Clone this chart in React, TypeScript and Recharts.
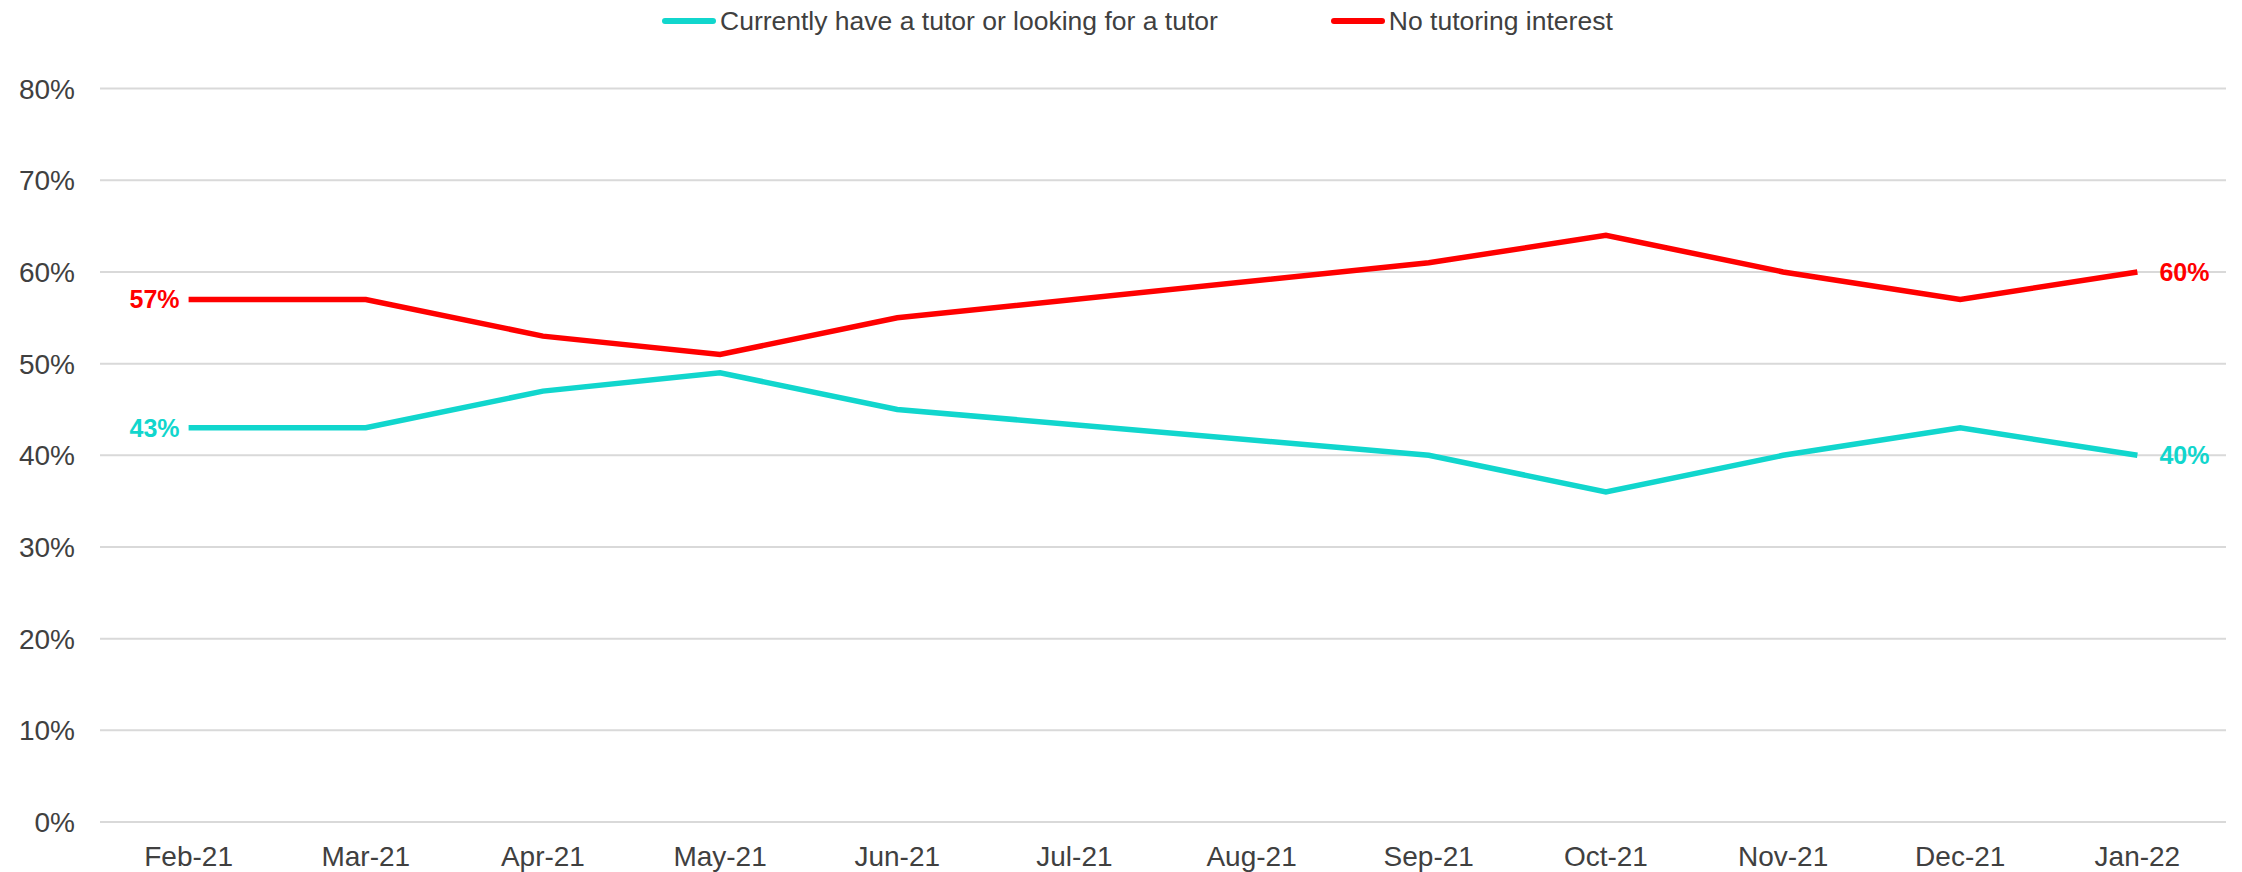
import React from "react";
import { LineChart, Line, XAxis, YAxis, CartesianGrid, Legend } from "recharts";

const months = [
  "Feb-21", "Mar-21", "Apr-21", "May-21", "Jun-21", "Jul-21",
  "Aug-21", "Sep-21", "Oct-21", "Nov-21", "Dec-21", "Jan-22",
];
// Jul-21 and Aug-21 have no survey wave, the line is joined across them
const tutorValues = [43, 43, 47, 49, 45, null, null, 40, 36, 40, 43, 40];
const noInterestValues = [57, 57, 53, 51, 55, null, null, 61, 64, 60, 57, 60];
const yTicks = [0, 10, 20, 30, 40, 50, 60, 70, 80];

const TEAL = "#11D6CD";
const RED = "#FF0000";
const FONT = "'Liberation Sans', Arial, sans-serif";

const data = months.map((m, i) => ({
  month: m,
  tutor: tutorValues[i],
  noInterest: noInterestValues[i],
}));

const legendItems = [
  { label: "Currently have a tutor or looking for a tutor", color: TEAL },
  { label: "No tutoring interest", color: RED },
];

function TopLegend() {
  return (
    <div
      style={{
        display: "flex",
        alignItems: "center",
        paddingLeft: 662,
        fontFamily: FONT,
        fontSize: 26.5,
        color: "#404040",
        height: 42,
      }}
    >
      {legendItems.map((it, i) => (
        <div
          key={it.label}
          style={{ display: "flex", alignItems: "center", marginRight: i === 0 ? 113 : 0 }}
        >
          <svg width={54} height={8} style={{ marginRight: 4 }}>
            <line x1={3} y1={4} x2={51} y2={4} stroke={it.color} strokeWidth={6} strokeLinecap="round" />
          </svg>
          <span>{it.label}</span>
        </div>
      ))}
    </div>
  );
}

function endLabel(color: string) {
  return (props: any) => {
    const { x, y, index, value } = props;
    if (value == null) return null;
    if (index === 0) {
      return (
        <text x={x - 9} y={y} textAnchor="end" dominantBaseline="central" fill={color}
          fontFamily={FONT} fontSize={25} fontWeight="bold">
          {value}%
        </text>
      );
    }
    if (index === months.length - 1) {
      return (
        <text x={x + 22} y={y} textAnchor="start" dominantBaseline="central" fill={color}
          fontFamily={FONT} fontSize={25} fontWeight="bold">
          {value}%
        </text>
      );
    }
    return null;
  };
}

export default function App() {
  return (
    <div style={{ position: "absolute", left: 0, top: 0, width: 2242, height: 872, overflow: "hidden", background: "#fff" }}>
      <LineChart
        width={2242}
        height={872}
        data={data}
        margin={{ top: 88.6, right: 16, bottom: 0, left: 0 }}
      >
        <CartesianGrid vertical={false} stroke="#d9d9d9" strokeWidth={2} />
        <XAxis
          dataKey="month"
          axisLine={false}
          tickLine={false}
          tickSize={0}
          tickMargin={24}
          height={50}
          padding={{ left: 88.6, right: 88.6 }}
          tick={{ fill: "#404040", fontSize: 28, fontFamily: FONT }}
          interval={0}
        />
        <YAxis
          domain={[0, 80]}
          ticks={yTicks}
          axisLine={false}
          tickLine={false}
          tickSize={0}
          tickMargin={25}
          width={100}
          tickFormatter={(v) => `${v}%`}
          tick={{ fill: "#404040", fontSize: 28, fontFamily: FONT }}
        />
        <Legend
          layout="horizontal"
          verticalAlign="middle"
          align="center"
          wrapperStyle={{ top: 0, left: 0, width: 2242 }}
          content={() => <TopLegend />}
        />
        <Line
          type="linear"
          dataKey="tutor"
          name="Currently have a tutor or looking for a tutor"
          stroke={TEAL}
          strokeWidth={5.5}
          dot={false}
          connectNulls
          isAnimationActive={false}
          label={endLabel(TEAL)}
        />
        <Line
          type="linear"
          dataKey="noInterest"
          name="No tutoring interest"
          stroke={RED}
          strokeWidth={5.5}
          dot={false}
          connectNulls
          isAnimationActive={false}
          label={endLabel(RED)}
        />
      </LineChart>
    </div>
  );
}
